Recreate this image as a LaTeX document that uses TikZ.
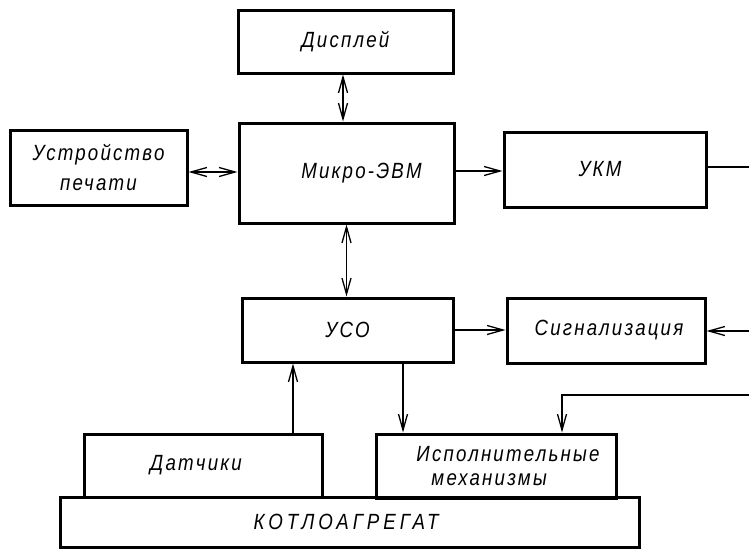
\documentclass[tikz,border=0pt]{standalone}
\usepackage{fontspec}
\setmainfont{Liberation Sans}[FakeStretch=0.85,LetterSpace=10]
\usetikzlibrary{arrows.meta}
\begin{document}
\begin{tikzpicture}[x=1pt,y=-1pt,
  txt/.style={font=\fontsize{22}{26}\selectfont\itshape},
  box/.style={draw,line width=3pt,inner sep=0pt,txt},
  con/.style={line width=1.3pt},
  tip/.tip={Straight Barb[length=16pt,width=9pt,line width=1.3pt]},
  arr/.style={con,-tip},
  dbl/.style={con,tip-tip}]
\useasboundingbox (0,0) rectangle (749,549);
% boxes
\node[box,minimum width=215pt,minimum height=63pt] (disp) at (345.5,41.5) {Дисплей};
\node[box,minimum width=215pt,minimum height=100pt] (micro) at (346.5,173) {\hspace*{30pt}Микро-ЭВМ};
\node[box,minimum width=177pt,minimum height=75pt,align=center,font=\fontsize{22}{30}\selectfont\itshape] (print) at (98.5,167.5) {Устройство\\печати};
\node[box,minimum width=202pt,minimum height=75pt] (ukm) at (605,169.5) {\hspace*{-10pt}УКМ};
\node[box,minimum width=211pt,minimum height=64pt] (uso) at (347.5,330) {УСО};
\node[box,minimum width=198pt,minimum height=65pt] (sig) at (606,330.5) {\hspace*{6pt}Сигнализация};
\node[box,minimum width=238pt,minimum height=63pt] (dat) at (203,465.5) {\raisebox{-3pt}{Датчики}\hspace*{14pt}};
\node[box,minimum width=240pt,minimum height=64pt,align=left,font=\fontsize{22}{24}\selectfont\itshape] (isp) at (496,466) {\hspace*{24pt}Исполнительные\\\hspace*{39pt}механизмы};
\node[box,minimum width=579pt,minimum height=50pt,font=\fontsize{22}{26}\selectfont\itshape\addfontfeature{LetterSpace=18}] (kotlo) at (349.5,522) {\raisebox{-5pt}{КОТЛОАГРЕГАТ}\hspace*{7pt}};
% free ends at the right margin
\coordinate (ukmout) at (749,167);
\coordinate (sigin) at (749,331);
\coordinate (ispin) at (749,395);
\coordinate (bend) at (562,395);
% helper points
\coordinate (p1) at ([yshift=-4.5pt]print.east);
\coordinate (m1) at ([yshift=2pt]micro.east);
\coordinate (d0) at ([xshift=-2.5pt]disp.south);
\coordinate (u1) at ([xshift=55.5pt]uso.south);
\coordinate (d1) at ([xshift=90pt]dat.north);
% connectors
\draw[dbl] (d0) -- (d0 |- micro.north);
\draw[dbl] (micro.south) -- (micro.south |- uso.north);
\draw[dbl] (p1) -- (p1 -| micro.west);
\draw[arr] (m1) -- (m1 -| ukm.west);
\draw[con] (ukm.east |- ukmout) -- (ukmout);
\draw[arr] (sigin) -- (sigin -| sig.east);
\draw[arr] (uso.east) -- (uso.east -| sig.west);
\draw[arr] (u1) -- (u1 |- isp.north);
\draw[arr] (ispin) -- (bend) -- (bend |- isp.north);
\draw[arr] (d1) -- (d1 |- uso.south);
\end{tikzpicture}
\end{document}
